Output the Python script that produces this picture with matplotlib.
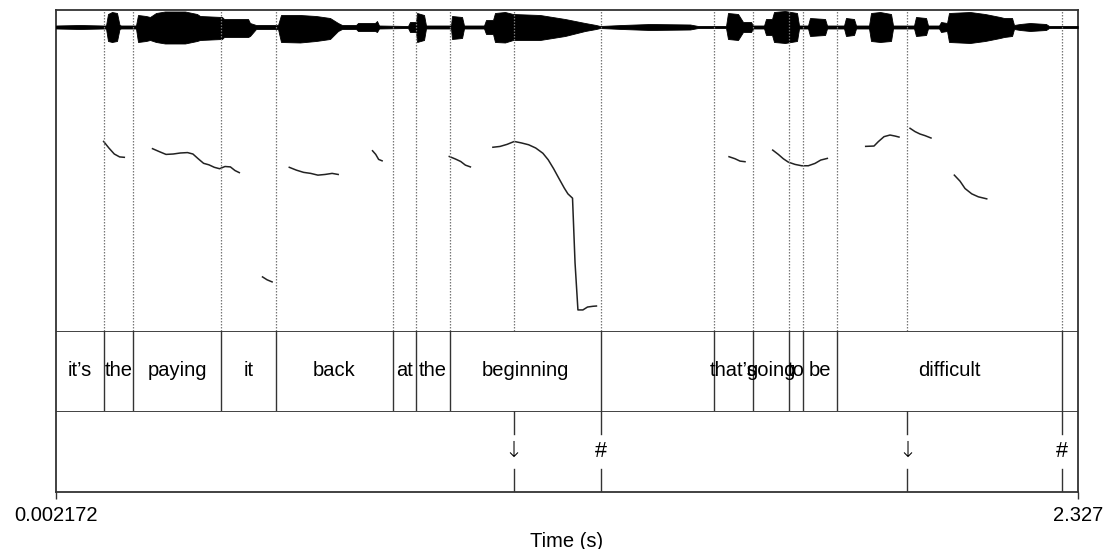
"""Praat-style picture: waveform, pitch track and two annotation tiers."""

import matplotlib
matplotlib.use("Agg")
import matplotlib.pyplot as plt

plt.rcParams["font.family"] = ["Liberation Sans", "DejaVu Sans"]

T_START = 0.002172
T_END = 2.327

# waveform envelope (time s, upper / lower amplitude)
WAVE_T = [0.0022, 0.0568, 0.1091, 0.1160, 0.1205, 0.1296, 0.1410, 0.1467, 0.1501,
          0.1842, 0.1888, 0.2070, 0.2161, 0.2298, 0.2502, 0.2957, 0.3230, 0.3299,
          0.3799, 0.3845, 0.4391, 0.4436, 0.4573, 0.5074, 0.5142, 0.5574, 0.5938,
          0.6257, 0.6439, 0.6530, 0.6849, 0.6894, 0.7281, 0.7326, 0.7372, 0.8032,
          0.8077, 0.8214, 0.8237, 0.8396, 0.8441, 0.9010, 0.9033, 0.9261, 0.9306,
          0.9761, 0.9807, 0.9966, 1.0011, 1.0239, 1.0421, 1.1035, 1.1604, 1.2059,
          1.2310, 1.2401, 1.2901, 1.3538, 1.4449, 1.4631, 1.5268, 1.5313, 1.5541,
          1.5655, 1.5837, 1.5882, 1.6133, 1.6178, 1.6315, 1.6360, 1.6610, 1.6883,
          1.6929, 1.7134, 1.7179, 1.7521, 1.7566, 1.7953, 1.7998, 1.8180, 1.8226,
          1.8522, 1.8567, 1.8772, 1.9022, 1.9068, 1.9546, 1.9591, 1.9819, 1.9864,
          2.0115, 2.0160, 2.0297, 2.0342, 2.0820, 2.1161, 2.1503, 2.1594, 2.1776,
          2.1821, 2.1958, 2.2185, 2.2549, 2.2618, 2.3270]
WAVE_UP = [1.5, 2, 1.5, 1.5, 13, 15, 14, 2, 1.5,
           1.5, 12, 11, 10, 14, 15.5, 15.5, 13, 11,
           10, 8, 8, 4, 2, 2, 12, 12, 11,
           9, 4, 2, 2, 4, 4, 6, 1.5, 1,
           5, 5, 14, 12, 1.5, 1.5, 11, 10, 1.5,
           1.5, 7, 7, 14, 15, 13, 12, 8, 4,
           2, 1, 2, 3, 2.5, 1, 1, 14, 13,
           5, 5, 1.5, 1.5, 8, 8, 15, 16, 14,
           1.5, 1.5, 9, 8, 1.5, 1.5, 9, 8, 1.5,
           1.5, 14, 15, 13, 1.5, 1.5, 10, 9, 1.5,
           1.5, 5, 4, 14, 15, 13, 10, 9, 9,
           2, 3, 4, 3, 1, 1]
WAVE_DN = [1.5, 2, 1.5, 1.5, 14, 15, 14, 2, 1.5,
           1.5, 15, 14, 13, 15, 16.5, 16.5, 14, 13,
           12, 10, 10, 9, 2, 2, 15, 15.5, 14,
           12, 4, 2, 2, 4, 4, 5, 1.5, 1,
           5, 5, 15, 13, 1.5, 1.5, 12, 11, 1.5,
           1.5, 7, 7, 15, 15.5, 13, 13, 9, 4,
           2, 1, 2, 3, 2.5, 1, 1, 12, 13,
           5, 5, 1.5, 1.5, 8, 8, 15, 16, 14,
           1.5, 1.5, 9, 8, 1.5, 1.5, 9, 8, 1.5,
           1.5, 14, 15, 14, 1.5, 1.5, 9, 8, 1.5,
           1.5, 5, 4, 15, 16, 14, 11, 10, 9,
           2, 3, 4, 3, 1, 1]

# pitch contour pieces (time s, F0 Hz)
PITCH = [
    ([0.1105, 0.1225, 0.1348, 0.1469, 0.1576],
     [355.7, 346.0, 337.1, 332.8, 332.2]),
    ([0.2218, 0.2366, 0.2525, 0.2689, 0.2852, 0.3014, 0.3137, 0.3257, 0.3380,
      0.3501, 0.3624, 0.3744, 0.3867, 0.3990, 0.4095, 0.4193],
     [345.0, 340.8, 336.5, 337.1, 338.6, 339.2, 337.1, 330.1, 323.3,
      321.1, 317.4, 315.3, 318.6, 318.0, 312.6, 309.5]),
    ([0.4721, 0.4825, 0.4939], [155.1, 150.8, 147.7]),
    ([0.5330, 0.5492, 0.5656, 0.5817, 0.5981, 0.6143, 0.6304, 0.6443],
     [317.4, 313.2, 309.9, 308.4, 305.8, 306.8, 308.4, 306.8]),
    ([0.7224, 0.7297, 0.7363, 0.7442], [341.9, 336.5, 329.1, 327.0]),
    ([0.8971, 0.9110, 0.9231, 0.9338, 0.9451], [333.4, 329.7, 326.0, 320.6, 318.0]),
    ([0.9963, 1.0125, 1.0287, 1.0450, 1.0612, 1.0776, 1.0937, 1.1101, 1.1222,
      1.1345, 1.1465, 1.1588, 1.1670, 1.1775, 1.1832, 1.1898, 1.2011, 1.2116,
      1.2239, 1.2319],
     [347.1, 348.3, 351.4, 355.7, 353.5, 350.8, 346.0, 338.2, 328.5,
      315.3, 301.0, 286.6, 278.1, 271.7, 176.2, 106.2, 106.2, 110.5,
      111.6, 112.0]),
    ([1.5336, 1.5472, 1.5586, 1.5700], [333.1, 330.1, 326.6, 325.7]),
    ([1.6330, 1.6458, 1.6571, 1.6685, 1.6838, 1.6990, 1.7140, 1.7293, 1.7422, 1.7573],
     [342.9, 336.5, 330.1, 325.1, 321.7, 319.7, 319.7, 323.2, 328.1, 330.6]),
    ([1.8446, 1.8635, 1.8733, 1.8863, 1.8999, 1.9113, 1.9204],
     [348.4, 348.9, 355.4, 362.8, 365.2, 363.7, 362.2]),
    ([1.9455, 1.9568, 1.9682, 1.9796, 1.9932], [375.2, 370.3, 366.7, 364.3, 360.8]),
    ([2.0463, 2.0592, 2.0706, 2.0859, 2.1009, 2.1200],
     [305.8, 296.9, 286.0, 278.1, 273.7, 270.7]),
]

# word tier: interval edges and labels
WORD_EDGES = [0.0022, 0.1105, 0.1779, 0.3770, 0.5028, 0.7679, 0.8223, 0.8987,
              1.2423, 1.4995, 1.5875, 1.6695, 1.7013, 1.7794, 2.2920, 2.3270]
WORDS = ["it\u2019s", "the", "paying", "it", "back", "at", "the", "beginning",
         "", "that\u2019s", "going", "to", "be", "difficult", ""]

# point tier
POINT_T = [1.0435, 1.2423, 1.9387, 2.2920]
POINT_LABELS = ["\u2193", "#", "\u2193", "#"]

W, H = 1107, 549
fig = plt.figure(figsize=(W / 100, H / 100), dpi=100)

X0, X1 = 56, 1077.7


def rect(top, bottom):
    return [X0 / W, 1 - bottom / H, (X1 - X0) / W, (bottom - top) / H]


LINE = "#333333"
DOT = "#777777"
FS = 14.5

# outer frame with time axis
frame = fig.add_axes(rect(10, 492))
frame.set_xlim(T_START, T_END)
frame.set_ylim(0, 1)
frame.set_yticks([])
frame.set_xticks([T_START, T_END])
frame.set_xticklabels(["0.002172", "2.327"], fontsize=FS)
frame.tick_params(axis="x", length=5, width=1, color=LINE, pad=5)
frame.set_xlabel("Time (s)", fontsize=FS, labelpad=5)
for sp in frame.spines.values():
    sp.set_color(LINE)
    sp.set_linewidth(1.3)
frame.patch.set_alpha(0)

# waveform
wav = fig.add_axes(rect(10, 44))
wav.set_xlim(T_START, T_END)
wav.set_ylim(-17, 17)
wav.fill_between(WAVE_T, WAVE_UP, [-d for d in WAVE_DN], color="black", lw=0.6,
                 edgecolor="black")
wav.axhline(0, color="black", lw=0.8)
wav.axis("off")

# pitch
pit = fig.add_axes(rect(44, 331))
pit.set_xlim(T_START, T_END)
pit.set_ylim(75, 500)
for ts, fs in PITCH:
    pit.plot(ts, fs, color="#222222", lw=1.1)
pit.axis("off")

# dotted boundary lines through waveform and pitch
upper = fig.add_axes(rect(10, 331))
upper.set_xlim(T_START, T_END)
upper.set_ylim(0, 1)
for t in sorted(set(WORD_EDGES[1:-1] + POINT_T)):
    upper.axvline(t, color=DOT, lw=0.9, ls=(0, (1.2, 1.2)))
upper.axis("off")

# word tier
t1 = fig.add_axes(rect(331, 411))
t1.set_xlim(T_START, T_END)
t1.set_ylim(0, 1)
t1.axhline(1, color=LINE, lw=1.3)
for t in WORD_EDGES[1:-1]:
    t1.axvline(t, color=LINE, lw=1.0)
for a, b, w in zip(WORD_EDGES[:-1], WORD_EDGES[1:], WORDS):
    if w:
        t1.text((a + b) / 2, 0.5, w, ha="center", va="center", fontsize=FS)
t1.axis("off")

# point tier
t2 = fig.add_axes(rect(411, 492))
t2.set_xlim(T_START, T_END)
t2.set_ylim(0, 1)
t2.axhline(1, color=LINE, lw=1.3)
for t, lab in zip(POINT_T, POINT_LABELS):
    t2.plot([t, t], [1, 0.72], color=LINE, lw=1.0)
    t2.plot([t, t], [0.28, 0], color=LINE, lw=1.0)
    if lab == "\u2193":
        t2.text(t, 0.5, lab, ha="center", va="center", fontsize=FS + 1,
                family=["Noto Sans", "DejaVu Sans"], fontweight="light")
    else:
        t2.text(t, 0.5, lab, ha="center", va="center", fontsize=FS + 1)
t2.axis("off")

fig.savefig("out.png", dpi=100, facecolor="white")
